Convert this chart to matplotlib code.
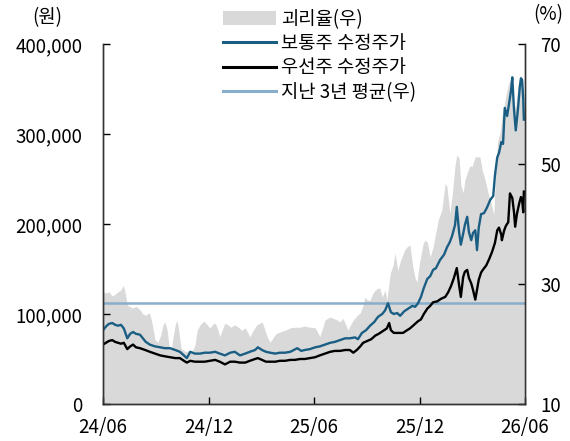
import matplotlib
matplotlib.use('Agg')
import matplotlib.pyplot as plt
import pandas as pd
from matplotlib.patches import Patch
from matplotlib.lines import Line2D
from matplotlib.ticker import FuncFormatter

plt.rcParams['font.family'] = ['Noto Sans CJK KR', 'DejaVu Sans']

start = pd.Timestamp('2024-06-01')
end = pd.Timestamp('2026-06-01')

# 보통주 수정주가 (원) - days since 2024-06-01, values in thousand won
common_days = [0, 5, 10, 16, 21, 26, 31, 36, 42, 47,
               52, 57, 64, 69, 74, 81, 90, 99, 107, 116,
               125, 133, 140, 145, 151, 159, 168, 176, 185, 194,
               202, 211, 220, 228, 237, 246, 254, 263, 268, 275,
               282, 289, 298, 306, 315, 324, 330, 336, 343, 349,
               358, 367, 375, 384, 393, 401, 410, 419, 427, 436,
               441, 448, 455, 462, 469, 476, 483, 488, 493, 498,
               503, 509, 514, 521, 528, 535, 540, 545, 550, 555,
               561, 566, 571, 576, 583, 590, 595, 600, 604, 609,
               612, 616, 619, 623, 626, 630, 633, 637, 640, 644,
               647, 650, 654, 659, 664, 670, 675, 678, 682, 685,
               689, 692, 695, 699, 702, 706, 708, 711, 714, 718,
               721, 723, 725, 727, 728]
common_k = [82, 86, 89, 90, 88, 87, 88, 84, 73, 78,
            80, 78, 77, 73, 69, 66, 64, 63, 62, 62,
            60, 58, 54, 51, 58, 56, 56, 57, 57, 58,
            56, 54, 57, 58, 54, 56, 58, 60, 63, 60,
            58, 57, 56, 57, 57, 58, 60, 62, 59, 60,
            61, 63, 64, 66, 68, 69, 71, 73, 73, 74,
            72, 79, 82, 87, 91, 97, 100, 104, 112, 102,
            100, 101, 98, 103, 106, 109, 108, 112, 119, 129,
            139, 142, 149, 151, 160, 166, 174, 180, 187, 199,
            219, 191, 177, 189, 199, 208, 191, 182, 190, 193,
            171, 196, 211, 212, 218, 227, 231, 254, 274, 279,
            291, 289, 329, 320, 332, 349, 363, 327, 304, 329,
            352, 362, 360, 338, 316]

# 우선주 수정주가 (원)
pref_days = [0, 5, 10, 16, 21, 26, 31, 36, 42, 47,
             52, 57, 64, 73, 81, 90, 99, 107, 116, 125,
             133, 140, 145, 151, 159, 168, 176, 185, 194, 202,
             211, 220, 228, 237, 246, 254, 263, 268, 275, 282,
             289, 298, 306, 315, 324, 332, 341, 349, 358, 367,
             375, 384, 393, 401, 410, 419, 427, 433, 439, 445,
             450, 457, 464, 471, 477, 484, 491, 495, 498, 503,
             510, 519, 526, 531, 538, 545, 550, 555, 561, 566,
             571, 578, 585, 592, 597, 602, 607, 612, 616, 619,
             623, 626, 630, 633, 637, 640, 644, 647, 650, 654,
             657, 663, 668, 673, 678, 682, 685, 689, 690, 694,
             697, 701, 704, 708, 711, 713, 716, 720, 723, 725,
             727, 728]
pref_k = [66, 68, 70, 71, 69, 68, 67, 68, 61, 64,
          66, 63, 62, 60, 58, 56, 54, 53, 52, 51,
          51, 48, 46, 48, 47, 47, 47, 48, 49, 47,
          44, 47, 47, 46, 46, 48, 50, 51, 49, 47,
          47, 47, 48, 48, 49, 49, 50, 50, 51, 52,
          54, 56, 58, 59, 59, 60, 60, 57, 60, 64,
          68, 70, 72, 76, 78, 81, 84, 90, 82, 79,
          79, 79, 82, 84, 88, 92, 94, 100, 106, 109,
          113, 114, 117, 119, 124, 131, 140, 151, 132, 119,
          141, 147, 149, 140, 134, 127, 116, 127, 138, 146,
          149, 154, 161, 169, 179, 193, 196, 188, 182, 193,
          198, 202, 234, 229, 213, 197, 211, 223, 230, 227,
          213, 236]

# 괴리율 (%)
gap_days = [0, 5, 10, 16, 21, 26, 31, 35, 38, 42,
            47, 52, 57, 64, 69, 74, 80, 83, 87, 90,
            95, 100, 104, 107, 111, 114, 118, 121, 125, 128,
            131, 135, 138, 144, 149, 154, 159, 163, 168, 173,
            176, 182, 185, 190, 194, 199, 202, 206, 211, 216,
            221, 228, 234, 240, 246, 251, 254, 260, 266, 272,
            275, 279, 282, 285, 289, 294, 299, 306, 315, 324,
            332, 341, 349, 358, 367, 372, 375, 381, 384, 389,
            393, 398, 405, 410, 415, 420, 424, 427, 433, 439,
            445, 450, 453, 458, 462, 467, 471, 476, 479, 483,
            488, 491, 497, 502, 505, 510, 514, 517, 522, 526,
            531, 536, 540, 543, 547, 550, 554, 557, 561, 566,
            571, 576, 580, 583, 586, 592, 595, 600, 604, 606,
            609, 612, 616, 619, 623, 626, 630, 635, 638, 644,
            647, 652, 656, 661, 666, 670, 673, 676, 680, 683,
            687, 690, 694, 697, 701, 704, 708, 711, 714, 718,
            721, 725, 728]
gap_pct = [28.7, 28.5, 28.7, 28.0, 28.3, 28.7, 29.0, 29.8, 28.7, 26.5,
           26.2, 26.0, 26.3, 25.7, 25.0, 24.8, 25.2, 24.3, 22.3, 20.7,
           20.3, 21.5, 23.2, 23.7, 22.3, 19.8, 19.0, 21.0, 23.2, 24.0,
           22.3, 19.3, 19.0, 18.7, 19.0, 18.7, 19.8, 22.3, 23.2, 23.7,
           23.7, 23.0, 22.7, 23.3, 23.5, 22.3, 21.2, 22.3, 23.5, 23.2,
           22.8, 23.2, 22.8, 22.3, 22.7, 21.8, 21.2, 22.3, 23.2, 23.5,
           23.7, 22.7, 21.8, 21.0, 20.3, 21.0, 21.7, 22.0, 22.3, 22.7,
           22.8, 22.8, 23.0, 22.8, 22.7, 21.8, 21.2, 23.0, 24.0, 24.3,
           24.5, 24.3, 24.0, 23.7, 24.3, 23.2, 22.3, 23.0, 24.0, 24.7,
           25.2, 26.5, 27.8, 27.3, 27.3, 28.5, 29.0, 29.3, 29.3, 27.8,
           29.0, 27.3, 31.8, 33.2, 35.2, 32.3, 33.7, 34.5, 35.7, 36.2,
           36.5, 32.8, 31.0, 30.3, 33.2, 34.8, 36.8, 37.3, 37.0, 34.5,
           36.2, 38.7, 40.7, 41.5, 42.3, 46.8, 46.2, 41.8, 44.8, 46.8,
           49.8, 51.5, 51.0, 46.5, 45.2, 47.3, 48.5, 49.8, 49.5, 51.2,
           51.2, 51.2, 49.0, 47.3, 45.2, 44.0, 42.8, 41.5, 50.7, 54.0,
           55.2, 57.8, 59.8, 61.5, 63.2, 64.0, 62.3, 59.0, 59.8, 63.2,
           64.0, 62.3, 59.0]

avg_3y = 26.8  # 지난 3년 평균 (%)

x_ticks = ['2024-06-01', '2024-12-01', '2025-06-01', '2025-12-01', '2026-06-01']
x_labels = ['24/06', '24/12', '25/06', '25/12', '26/06']
left_ticks = [0, 100000, 200000, 300000, 400000]
right_ticks = [10, 30, 50, 70]

labels = ['괴리율(우)', '보통주 수정주가', '우선주 수정주가', '지난 3년 평균(우)']

C_GRAY = '#d9d9d9'
C_BLUE = '#1b5e84'
C_BLACK = '#000000'
C_AVG = '#88aecb'


def to_dates(days):
    return start + pd.to_timedelta(days, unit='D')


W, H = 570, 441
fig = plt.figure(figsize=(W / 100, H / 100), dpi=100)
ax = fig.add_axes([103 / W, 1 - 404 / H, (525 - 103) / W, (404 - 44) / H])
ax2 = ax.twinx()
ax.set_zorder(ax2.get_zorder() + 1)
ax.patch.set_visible(False)

ax2.fill_between(to_dates(gap_days), 10, gap_pct, color=C_GRAY, lw=0)
ax2.axhline(avg_3y, color=C_AVG, lw=1.8)
ax.plot(to_dates(common_days), [v * 1000 for v in common_k], color=C_BLUE, lw=1.7)
ax.plot(to_dates(pref_days), [v * 1000 for v in pref_k], color=C_BLACK, lw=1.7)

ax.set_xlim(start, end)
ax.set_ylim(0, 400000)
ax2.set_ylim(10, 70)

ax.set_xticks(pd.to_datetime(x_ticks))
ax.set_xticklabels(x_labels)
ax.set_yticks(left_ticks)
ax.yaxis.set_major_formatter(FuncFormatter(lambda v, p: f'{int(v):,}'))
ax2.set_yticks(right_ticks)

fs = 13.5
ax.tick_params(axis='y', direction='in', length=5, width=1, pad=15, labelsize=fs, colors='black')
ax.tick_params(axis='x', direction='in', length=5, width=1, pad=9, labelsize=fs)
ax2.tick_params(axis='y', direction='in', length=5, width=1, pad=11, labelsize=fs)

for a in (ax, ax2):
    a.spines['top'].set_visible(False)
    for s in ('left', 'right', 'bottom'):
        a.spines[s].set_linewidth(1.0)
        a.spines[s].set_color('#333333')

fig.text(47 / W, 1 - 18 / H, '(원)', ha='center', va='center', fontsize=fs)
fig.text(548 / W, 1 - 15 / H, '(%)', ha='center', va='center', fontsize=fs)

handles = [Patch(facecolor=C_GRAY, edgecolor='none'),
           Line2D([], [], color=C_BLUE, lw=2.2),
           Line2D([], [], color=C_BLACK, lw=2.2),
           Line2D([], [], color=C_AVG, lw=2.2)]
fig.legend(handles, labels, loc='upper left', bbox_to_anchor=(219 / W, 1 - 5 / H),
           frameon=False, fontsize=13.5, handlelength=2.85, handleheight=0.8,
           handletextpad=0.25, labelspacing=0.18, borderaxespad=0, borderpad=0.2)

fig.savefig('out.png', dpi=100)
